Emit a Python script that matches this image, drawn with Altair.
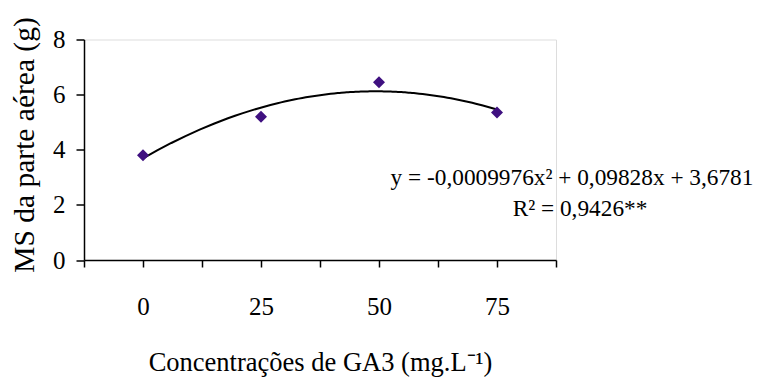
import altair as alt
import pandas as pd

# data
conc = [0, 25, 50, 75]
ms = [3.8, 5.2, 6.45, 5.35]

x_ticks = [-12.5, 0, 12.5, 25, 37.5, 50, 62.5, 75, 87.5]
x_labels = [0, 25, 50, 75]
y_ticks = [0, 2, 4, 6, 8]

eq_lines = ["y = -0,0009976x² + 0,09828x + 3,6781", "R² = 0,9426**"]

FONT = "Liberation Serif"
PURPLE = "#3F1080"

df = pd.DataFrame({"x": conc, "y": ms})

label_expr = "indexof([" + ",".join(str(v) for v in x_labels) + "], datum.value) >= 0 ? datum.label : ''"

xscale = alt.Scale(domain=[-12.5, 87.5], nice=False, zero=False)
yscale = alt.Scale(domain=[0, 8], nice=False)

xaxis = alt.Axis(
    values=x_ticks, labelExpr=label_expr, grid=False,
    tickSize=7, tickColor="black", domainColor="black", tickWidth=1.5, domainWidth=1.5,
    labelFont=FONT, labelFontSize=25, labelColor="black", labelPadding=27,
    labelFlush=False, labelOverlap=False,
    title="Concentrações de GA3 (mg.L⁻¹)", titleFont=FONT, titleFontSize=26.5,
    titleFontWeight="normal", titleColor="black", titleBaseline="alphabetic", titleY=110,
)
yaxis = alt.Axis(
    values=y_ticks, grid=False,
    tickSize=8, tickColor="black", domainColor="black", tickWidth=1.5, domainWidth=1.5,
    labelFont=FONT, labelFontSize=25, labelColor="black", labelPadding=11,
    title="MS da parte aérea (g)", titleFont=FONT, titleFontSize=29.5,
    titleFontWeight="normal", titleColor="black", titleX=-60, titleY=105,
    titleBaseline="middle",
)

base = alt.Chart(df)

points = base.mark_point(shape="diamond", size=144, filled=True, opacity=1, color=PURPLE).encode(
    x=alt.X("x:Q", scale=xscale, axis=xaxis),
    y=alt.Y("y:Q", scale=yscale, axis=yaxis),
)

curve = base.transform_regression(
    "x", "y", method="poly", order=2, extent=[0, 75]
).mark_line(color="black", strokeWidth=2).encode(
    x=alt.X("x:Q", scale=xscale),
    y=alt.Y("y:Q", scale=yscale),
)

eq1 = alt.Chart(pd.DataFrame({"t": [eq_lines[0]]})).mark_text(
    font=FONT, fontSize=23.3, color="black", align="center", baseline="alphabetic"
).encode(text="t:N", x=alt.value(488), y=alt.value(145))

eq2 = alt.Chart(pd.DataFrame({"t": [eq_lines[1]]})).mark_text(
    font=FONT, fontSize=23.3, color="black", align="center", baseline="alphabetic"
).encode(text="t:N", x=alt.value(496), y=alt.value(176))

chart = alt.layer(curve, points, eq1, eq2).properties(
    width=472, height=220.5,
    autosize=alt.AutoSizeParams(type="none"),
    padding={"left": 76, "top": 31.5, "right": 198, "bottom": 117},
).configure_view(stroke=None).configure(background="white")

chart.save("out.html", embed_options={"renderer": "svg", "actions": False})
